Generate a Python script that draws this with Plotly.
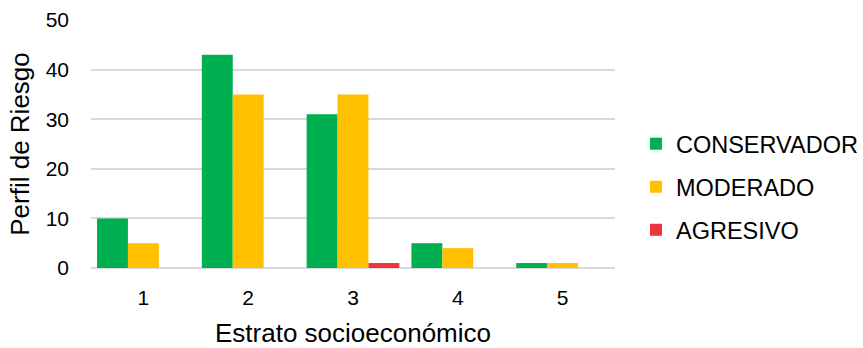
import plotly.graph_objects as go

# Strata and counts per risk profile
estratos = ["1", "2", "3", "4", "5"]
conservador = [10, 43, 31, 5, 1]
moderado = [5, 35, 35, 4, 1]
agresivo = [0, 0, 1, 0, 0]

series = [
    ("CONSERVADOR", conservador, "#00B050"),
    ("MODERADO", moderado, "#FFC000"),
    ("AGRESIVO", agresivo, "#EE3340"),
]

font_family = "Liberation Sans, Arial, sans-serif"

fig = go.Figure()
for name, vals, color in series:
    fig.add_trace(go.Bar(
        x=estratos, y=vals, name=name, legendgroup=name,
        marker=dict(color=color, line=dict(width=0)),
    ))

fig.update_layout(
    width=863, height=348,
    margin=dict(l=91, r=248, t=20, b=80, autoexpand=False),
    paper_bgcolor="white", plot_bgcolor="white",
    barmode="group", bargap=0.115, bargroupgap=0,
    font=dict(family=font_family, color="#000000"),
    legend=dict(
        x=1.04, xanchor="left", y=0.327, yanchor="middle",
        font=dict(size=23.5, color="#000000"),
        tracegroupgap=9.5, itemwidth=30,
    ),
    xaxis=dict(
        title=dict(text="Estrato socioeconómico", font=dict(size=26), standoff=17),
        tickfont=dict(size=21), showgrid=False, zeroline=False,
        showline=False, ticks="", ticklabelstandoff=15,
    ),
    yaxis=dict(
        title=dict(text="Perfil de Riesgo", font=dict(size=26), standoff=8),
        range=[0, 50], dtick=10, tickfont=dict(size=21),
        showgrid=True, gridcolor="#D9D9D9", gridwidth=1.5,
        zeroline=True, zerolinecolor="#D9D9D9", zerolinewidth=1.5,
        showline=False, ticks="", ticklabelstandoff=21,
    ),
)

fig.write_html("out.html")
